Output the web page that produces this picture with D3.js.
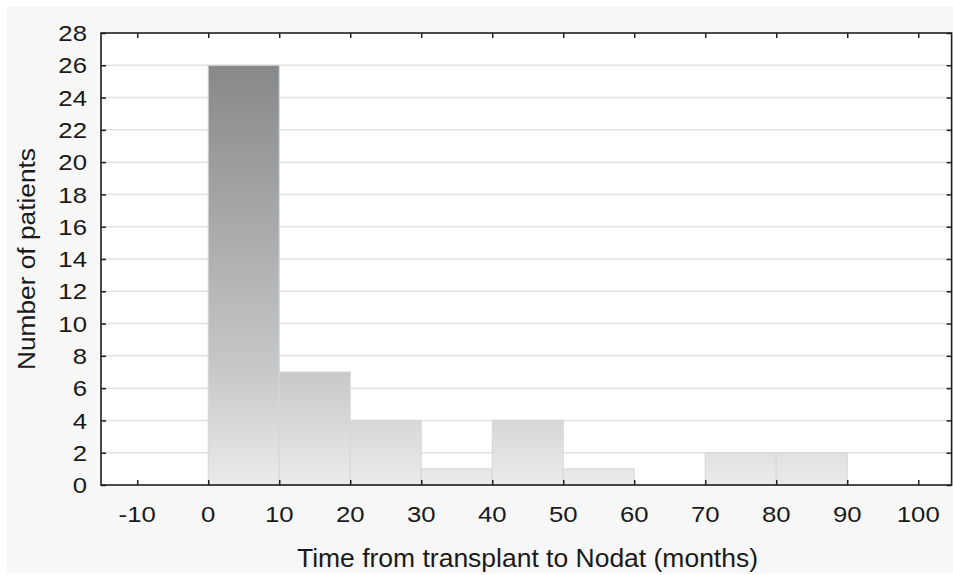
<!DOCTYPE html>
<html>
<head>
<meta charset="utf-8">
<script src="https://cdn.jsdelivr.net/npm/d3@7"></script>
<style>
  html, body { margin: 0; padding: 0; background: #ffffff; }
  svg { display: block; }
  text { font-family: "Liberation Sans", Arial, sans-serif; fill: #1a1a1a; }
</style>
</head>
<body>
<svg id="chart" width="953" height="575"></svg>
<script>
// ---- data ----
const binStarts = [0, 10, 20, 30, 40, 50, 60, 70, 80, 90];
const binWidth = 10;
const counts = [26, 7, 4, 1, 4, 1, 0, 2, 2, 0];
const xTicks = [-10, 0, 10, 20, 30, 40, 50, 60, 70, 80, 90, 100];
const yTicks = [0, 2, 4, 6, 8, 10, 12, 14, 16, 18, 20, 22, 24, 26, 28];
const xTitle = "Time from transplant to Nodat (months)";
const yTitle = "Number of patients";

// ---- layout ----
const W = 953, H = 575;
const plot = { left: 101, right: 951.6, top: 33, bottom: 485 };
const svg = d3.select("#chart");

const x = d3.scaleLinear().domain([-15.1, 104.7]).range([plot.left, plot.right]);
const y = d3.scaleLinear().domain([0, 28]).range([plot.bottom, plot.top]);

// outer background
svg.append("rect").attr("x", 0).attr("y", 0).attr("width", W).attr("height", H).attr("fill", "#ffffff");
svg.append("rect").attr("x", 7).attr("y", 7).attr("width", W - 7).attr("height", 566).attr("fill", "#f7f7f7");

// plot area
svg.append("rect")
  .attr("x", plot.left).attr("y", plot.top)
  .attr("width", plot.right - plot.left).attr("height", plot.bottom - plot.top)
  .attr("fill", "#ffffff");

// gradient for bars (user space, dark at top of tallest bar -> light at baseline)
const defs = svg.append("defs");
const grad = defs.append("linearGradient")
  .attr("id", "barGrad")
  .attr("gradientUnits", "userSpaceOnUse")
  .attr("x1", 0).attr("x2", 0)
  .attr("y1", y(26)).attr("y2", y(0));
const span = y(0) - y(26);
grad.append("stop").attr("offset", 0).attr("stop-color", "#87888a");
grad.append("stop").attr("offset", (y(7) - y(26)) / span).attr("stop-color", "#c7c8ca");
grad.append("stop").attr("offset", 1).attr("stop-color", "#ebebec");

// gridlines
svg.append("g").selectAll("line")
  .data(yTicks.filter(d => d > 0 && d < 28))
  .join("line")
  .attr("x1", plot.left).attr("x2", plot.right)
  .attr("y1", d => y(d)).attr("y2", d => y(d))
  .attr("stroke", "#e2e2e2").attr("stroke-width", 1.5);

// bars
svg.append("g").selectAll("rect")
  .data(binStarts.map((s, i) => ({ s, c: counts[i] })).filter(d => d.c > 0))
  .join("rect")
  .attr("x", d => x(d.s))
  .attr("width", d => x(d.s + binWidth) - x(d.s))
  .attr("y", d => y(d.c))
  .attr("height", d => y(0) - y(d.c))
  .attr("fill", "url(#barGrad)")
  .attr("stroke", "#d6d6d8")
  .attr("stroke-width", 1);

// frame axes with inward ticks
const tickLen = 5;
const axisColor = "#1e1e1e";

const gBottom = svg.append("g").attr("transform", `translate(0,${plot.bottom})`)
  .call(d3.axisBottom(x).tickValues(xTicks).tickSize(-tickLen).tickFormat(""));
const gTop = svg.append("g").attr("transform", `translate(0,${plot.top})`)
  .call(d3.axisTop(x).tickValues(xTicks).tickSize(-tickLen).tickFormat(""));
const gLeft = svg.append("g").attr("transform", `translate(${plot.left},0)`)
  .call(d3.axisLeft(y).tickValues(yTicks).tickSize(-tickLen).tickFormat(""));
const gRight = svg.append("g").attr("transform", `translate(${plot.right},0)`)
  .call(d3.axisRight(y).tickValues(yTicks).tickSize(-tickLen).tickFormat(""));

[gBottom, gTop, gLeft, gRight].forEach(g => {
  g.selectAll(".domain").remove();
  g.selectAll(".tick line").attr("stroke", axisColor).attr("stroke-width", 1.5);
});

// frame
svg.append("rect")
  .attr("x", plot.left).attr("y", plot.top)
  .attr("width", plot.right - plot.left).attr("height", plot.bottom - plot.top)
  .attr("fill", "none").attr("stroke", axisColor).attr("stroke-width", 1.6);

// tick labels
const sx = 1.12;
svg.append("g").selectAll("text")
  .data(xTicks)
  .join("text")
  .attr("transform", d => `translate(${x(d)},522) scale(${sx},1)`)
  .attr("text-anchor", "middle")
  .attr("font-size", 23)
  .text(d => d);

svg.append("g").selectAll("text")
  .data(yTicks)
  .join("text")
  .attr("transform", d => `translate(87,${y(d) + 8.2}) scale(${sx},1)`)
  .attr("text-anchor", "end")
  .attr("font-size", 23)
  .text(d => d);

// axis titles
svg.append("text")
  .attr("x", 297).attr("y", 567)
  .attr("font-size", 25)
  .attr("textLength", 461)
  .attr("lengthAdjust", "spacingAndGlyphs")
  .text(xTitle);

svg.append("text")
  .attr("transform", "translate(35,370) rotate(-90)")
  .attr("font-size", 23.5)
  .attr("textLength", 222)
  .attr("lengthAdjust", "spacingAndGlyphs")
  .text(yTitle);
</script>
</body>
</html>
